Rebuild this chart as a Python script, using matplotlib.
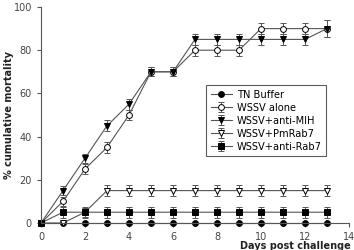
import matplotlib
matplotlib.use("Agg")
import matplotlib.pyplot as plt
import numpy as np

# ---- data ----
days = list(range(0, 14))
tn_buffer = [0] * 14
wssv_alone = [0, 10, 25, 35, 50, 70, 70, 80, 80, 80, 90, 90, 90, 90]
anti_mih = [0, 15, 30, 45, 55, 70, 70, 85, 85, 85, 85, 85, 85, 90]
pm_rab7 = [0, 0, 5, 15, 15, 15, 15, 15, 15, 15, 15, 15, 15, 15]
anti_rab7 = [0, 5, 5, 5, 5, 5, 5, 5, 5, 5, 5, 5, 5, 5]

err_alone = [0, 2, 2.5, 2.5, 2.5, 2, 2, 2.5, 2.5, 2.5, 2.5, 2.5, 2.5, 4]
err_mih = [0, 2, 2, 2.5, 2.5, 2, 2, 2.5, 2.5, 2.5, 2.5, 2.5, 2.5, 4]
err_rab7 = [0, 0, 2, 2.5, 2.5, 2.5, 2.5, 2.5, 2.5, 2.5, 2.5, 2.5, 2.5, 2.5]
err_anti_rab7 = [0, 2.5, 2.5, 2.5, 2.5, 2.5, 2.5, 2.5, 2.5, 2.5, 2.5, 2.5, 2.5, 2.5]

LINE = "#555555"
TICK = "#444444"

fig = plt.figure(figsize=(3.54, 2.5), dpi=100)
ax = fig.add_axes([41 / 354, 1 - 223 / 250, 308 / 354, 216 / 250])

series = [
    ("TN Buffer", tn_buffer, None, "o", "black"),
    ("WSSV alone", wssv_alone, err_alone, "o", "white"),
    ("WSSV+anti-MIH", anti_mih, err_mih, "v", "black"),
    ("WSSV+PmRab7", pm_rab7, err_rab7, "v", "white"),
    ("WSSV+anti-Rab7", anti_rab7, err_anti_rab7, "s", "black"),
]

for label, vals, err, mk, fc in series:
    ax.errorbar(days, vals, yerr=err, color=LINE, lw=0.8, marker=mk,
                markersize=4.2, markerfacecolor=fc, markeredgecolor="black",
                markeredgewidth=0.7, ecolor=LINE, elinewidth=0.7,
                capsize=2.2, capthick=0.7, label=label, clip_on=False)

ax.set_xlim(0, 14)
ax.set_ylim(0, 100)
ax.set_xticks(range(0, 15, 2))
ax.set_yticks(range(0, 101, 20))
for s in ["top", "right"]:
    ax.spines[s].set_visible(False)
for s in ["left", "bottom"]:
    ax.spines[s].set_color(LINE)
    ax.spines[s].set_linewidth(0.8)
ax.tick_params(colors=LINE, labelcolor=TICK, labelsize=7, length=3, width=0.8)

ax.set_ylabel("% cumulative mortality", fontsize=7, fontweight="bold", color="#222222")
ax.yaxis.set_label_coords(-0.088, 0.5)
# the reference crops this label at the bottom right; keep it just inside the frame
ax.set_xlabel("Days post challenge", fontsize=7, fontweight="bold", color="#222222",
              ha="right")
ax.xaxis.set_label_coords(1.005, -0.083)

leg = ax.legend(loc="upper left", bbox_to_anchor=(0.52, 0.66), fontsize=7.1,
                frameon=True, fancybox=False, edgecolor="#333333",
                handlelength=2.2, handletextpad=0.5, borderpad=0.45,
                labelspacing=0.3)
leg.get_frame().set_linewidth(0.8)

fig.savefig("out.png", dpi=100)
